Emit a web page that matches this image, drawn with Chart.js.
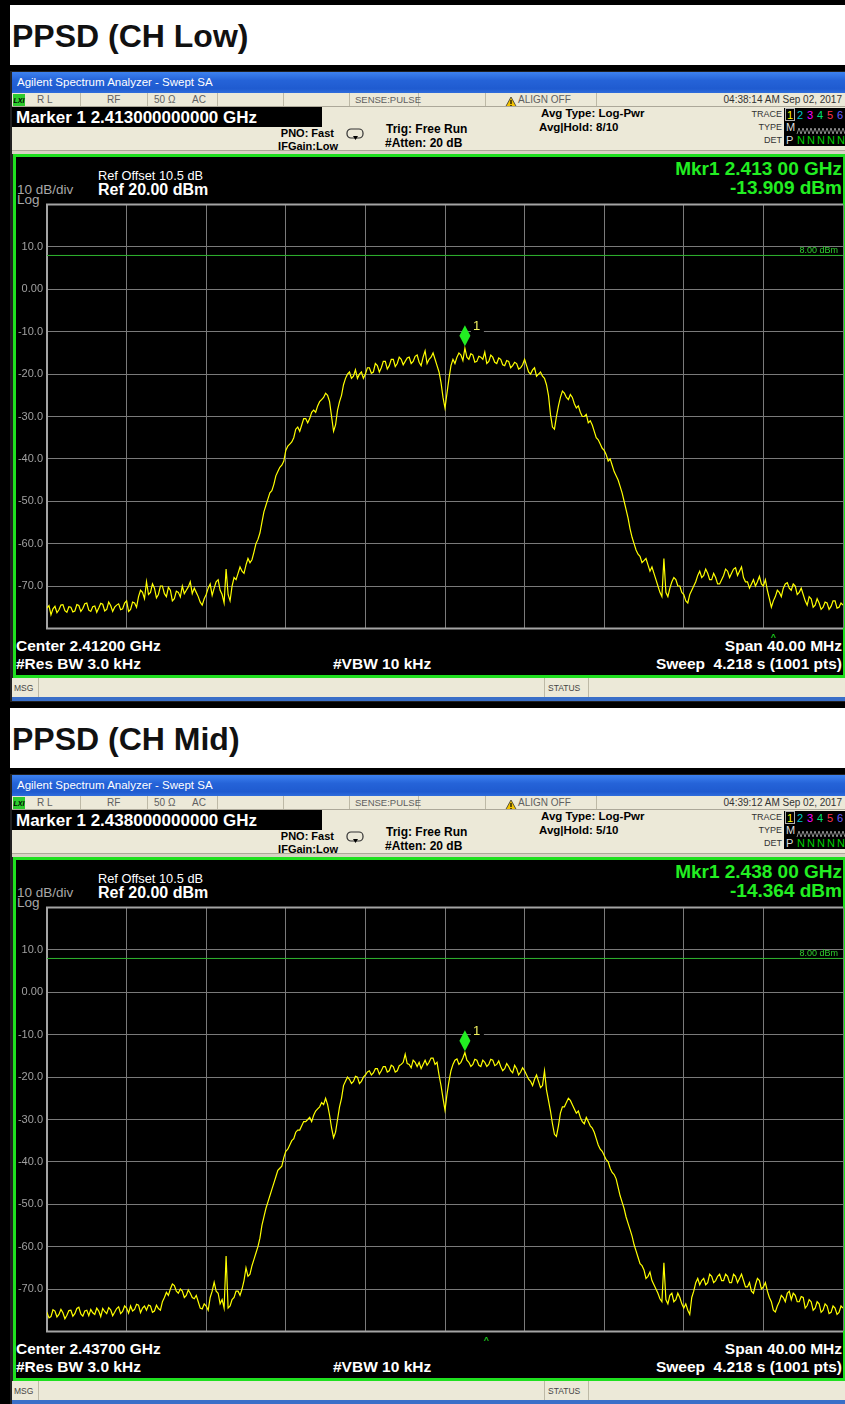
<!DOCTYPE html>
<html>
<head>
<meta charset="utf-8">
<script src="https://cdn.jsdelivr.net/npm/chart.js@4.4.1/dist/chart.umd.min.js"></script>
<style>
  html, body { margin:0; padding:0; }
  body { width:845px; height:1404px; background:#000; position:relative; overflow:hidden; font-family:"Liberation Sans", Arial, sans-serif; }
  .abs { position:absolute; }
  canvas { position:absolute; }
</style>
</head>
<body>
<script>
// ---------- data ----------
const spanMHz = 40;
const yMin = -80, yMax = 20, yStep = 10;
const xDivisions = 10;
const yTickValues = [20, 10, 0, -10, -20, -30, -40, -50, -60, -70, -80];
const yTickLabels = ['', '10.0', '0.00', '-10.0', '-20.0', '-30.0', '-40.0', '-50.0', '-60.0', '-70.0', ''];
const displayLineDbm = 8.00;

const panelTitles = ['PPSD (CH Low)', 'PPSD (CH Mid)'];
const centerGHz = ['2.41200', '2.43700'];
const centerMHz = [2412, 2437];
const markerMHz = [2413, 2438];
const markerDbm = [-13.909, -14.364];
const markerGHzText = ['2.413000000000', '2.438000000000'];
const mkrReadout = ['2.413 00', '2.438 00'];
const clockText = ['04:38:14 AM Sep 02, 2017', '04:39:12 AM Sep 02, 2017'];
const avgHoldText = ['8/10', '5/10'];

// trace values, dBm (401 samples across the 40 MHz span, 0.1 MHz apart)
const traceLow = [
  -75.2,-74.6,-76.8,-75.4,-74.8,-76.3,-75.6,-74.5,-74.4,-75.8,-76.2,-74.9,-75.0,-76.1,-75.9,-74.4,-74.6,-76.0,-75.3,-74.2,-74.0,-75.7,-76.0,-74.9,-74.7,-76.2,-75.2,-74.1,-74.3,-75.9,-75.5,-73.8,-74.6,-76.0,-75.0,-74.5,-74.2,-75.6,-75.4,-74.0,
  -73.5,-76.0,-75.5,-73.8,-74.0,-75.0,-72.5,-71.0,-71.5,-73.0,-69.0,-72.0,-71.5,-69.5,-70.5,-72.8,-72.0,-70.0,-70.0,-71.8,-72.5,-70.3,-71.0,-73.5,-73.0,-71.2,-71.5,-72.6,-70.0,-71.8,-71.0,-70.2,-69.0,-71.8,-70.5,-71.5,-72.5,-73.8,-74.5,-73.0,-72.0,-70.5,-69.5,-72.2,-70.5,-69.0,-68.5,-71.0,-72.0,-74.0,
  -66.0,-72.0,-73.5,-70.0,-68.0,-68.5,-67.0,-65.5,-66.5,-67.0,-65.0,-63.5,-64.5,-63.8,-62.0,-60.0,-59.0,-57.5,-55.0,-52.5,-51.0,-49.5,-48.0,-47.5,-46.0,-44.0,-43.0,-42.0,-41.5,-40.5,-38.0,-37.0,-36.5,-36.0,-35.0,-33.0,-32.5,-33.5,-32.0,-30.5,-30.5,-31.5,-30.5,-29.0,-28.5,-29.0,-27.5,-26.5,-26.0,-25.5,-24.5,-25.0,-26.5,-30.0,-33.5,-32.0,-28.5,-26.5,-25.0,-22.5,
  -21.0,-20.0,-19.5,-21.0,-20.5,-19.0,-21.0,-20.0,-19.5,-21.0,-20.0,-18.5,-18.5,-19.8,-19.5,-17.5,-18.0,-19.5,-18.5,-17.0,-17.0,-18.8,-18.0,-16.5,-16.5,-18.2,-17.5,-16.0,-16.5,-17.8,-17.0,-16.2,-16.0,-17.5,-17.0,-15.8,-15.5,-17.2,-18.0,-16.0,-14.5,-17.5,-16.5,-16.0,-15.0,-16.5,-18.0,-19.5,-22.0,-25.5,
  -28.0,-24.5,-21.0,-18.0,-16.5,-17.5,-16.0,-15.0,-15.5,-16.8,-13.9,-16.0,-16.5,-15.2,-15.5,-17.2,-17.0,-15.8,-16.0,-16.5,-14.8,-17.5,-17.0,-15.5,-16.0,-17.2,-17.5,-16.2,-16.5,-17.8,-18.0,-16.8,-17.0,-18.5,-18.0,-17.2,-17.5,-18.8,-18.5,-17.8,-16.5,-18.0,-19.5,-20.0,-19.0,-18.5,-20.5,-20.0,-19.5,-20.5,-21.0,-22.5,
  -25.0,-29.5,-32.5,-33.0,-30.0,-27.5,-25.5,-24.0,-24.5,-25.5,-26.0,-24.8,-25.5,-27.0,-28.0,-27.5,-29.0,-30.0,-30.0,-29.5,-31.5,-31.0,-32.0,-33.5,-35.0,-35.5,-36.5,-37.5,-38.0,-39.0,-40.5,-40.0,-41.5,-43.0,-44.0,-45.0,-46.5,-48.0,-50.0,-52.0,-54.0,-56.5,-58.5,-60.0,-61.5,-62.5,-63.0,-64.5,-64.0,-63.5,
  -65.0,-66.5,-65.5,-67.0,-68.5,-70.0,-71.5,-72.5,-63.5,-71.5,-72.5,-70.5,-69.0,-68.0,-68.5,-70.0,-70.0,-71.5,-72.0,-73.5,-74.0,-72.0,-71.0,-70.0,-69.0,-67.5,-66.5,-68.0,-67.5,-66.0,-67.0,-68.5,-68.5,-67.0,-68.0,-69.5,-69.5,-68.5,-67.5,-66.0,-66.5,-68.0,-67.0,-66.0,-65.7,-67.5,-66.5,-65.5,-68.0,-69.0,
  -69.0,-70.5,-69.5,-68.5,-70.0,-69.0,-67.7,-69.5,-70.0,-68.5,-71.0,-73.0,-75.0,-73.5,-72.5,-71.0,-71.5,-72.5,-70.5,-69.5,-69.2,-70.5,-71.0,-69.5,-70.0,-72.0,-71.5,-70.5,-72.0,-73.5,-74.5,-72.5,-73.0,-75.0,-74.5,-73.0,-74.0,-75.5,-75.0,-73.8,-74.0,-75.5,-74.8,-73.5,-73.5,-75.2,-75.0,-74.0,-74.5
];
const traceMid = [
  -75.5,-76.8,-76.5,-74.9,-75.2,-76.6,-76.0,-74.8,-75.6,-77.0,-76.2,-75.1,-75.0,-76.4,-75.8,-74.6,-74.3,-75.9,-76.4,-75.2,-75.0,-76.3,-74.8,-75.6,-76.0,-74.5,-75.2,-76.5,-74.6,-75.3,-75.8,-74.4,-74.9,-76.3,-75.5,-74.6,-74.2,-75.8,-75.3,-74.0,-74.5,-75.7,-74.0,-75.2,-74.8,-73.6,-73.8,-75.6,-74.5,-74.0,-75.0,-73.8,
  -74.0,-75.5,-75.2,-73.8,-74.6,-75.0,-73.0,-72.0,-70.8,-71.5,-70.0,-68.8,-69.2,-70.5,-71.0,-70.0,-70.5,-72.0,-71.5,-70.2,-71.0,-72.0,-72.3,-71.5,-73.0,-74.5,-74.7,-73.5,-74.0,-75.0,-72.0,-70.5,-68.4,-70.5,-71.0,-73.5,-72.5,-74.5,
  -62.2,-74.5,-74.0,-72.5,-72.0,-70.5,-70.5,-71.5,-70.0,-68.0,-65.0,-67.0,-66.5,-64.5,-63.0,-61.5,-60.0,-58.0,-55.0,-53.0,-51.0,-49.5,-48.0,-46.5,-45.0,-43.5,-42.0,-41.5,-41.0,-39.0,-37.5,-37.0,-36.0,-35.0,-34.5,-33.0,-32.5,-32.5,-31.5,-30.5,-30.5,-30.0,-29.5,-30.5,-29.0,-28.0,-27.5,-27.0,-26.0,-26.5,-25.0,-26.5,-29.0,-32.0,-34.3,-33.0,-30.0,-27.0,-25.0,-22.0,
  -21.0,-20.0,-20.5,-21.5,-21.0,-19.8,-20.0,-21.5,-21.0,-20.0,-19.5,-18.8,-18.5,-19.5,-19.0,-18.0,-18.0,-19.3,-18.5,-17.5,-17.5,-18.8,-18.5,-17.2,-17.5,-18.8,-18.5,-17.3,-17.0,-16.5,-14.6,-16.8,-17.0,-17.8,-16.0,-16.5,-17.5,-16.5,-18.0,-17.0,-16.0,-17.2,-16.5,-15.5,-15.5,-17.0,-16.5,-19.5,-22.0,-25.0,
  -27.8,-24.0,-21.0,-18.5,-17.0,-16.0,-15.7,-17.0,-16.5,-15.5,-14.2,-16.0,-16.5,-17.5,-17.0,-15.8,-16.0,-17.2,-17.5,-16.0,-16.5,-17.5,-17.0,-15.8,-16.0,-17.3,-17.0,-16.2,-17.5,-18.5,-18.0,-16.8,-17.5,-18.5,-19.0,-17.2,-18.0,-19.5,-18.8,-17.8,-18.5,-19.5,-20.5,-21.0,-22.0,-20.5,-19.5,-21.0,-22.5,-22.0,-18.5,-23.0,
  -25.5,-28.0,-31.0,-33.5,-34.0,-31.5,-28.5,-27.0,-27.0,-26.0,-25.0,-25.5,-26.5,-27.5,-28.5,-28.0,-29.5,-30.5,-31.0,-29.5,-30.5,-31.5,-32.0,-33.0,-34.5,-36.0,-37.0,-37.5,-38.5,-39.5,-40.0,-41.5,-42.5,-43.0,-44.0,-46.0,-48.0,-49.5,-51.0,-53.0,-54.5,-56.0,-57.5,-59.5,-61.0,-62.5,-64.0,-64.5,-65.5,-67.5,
  -67.0,-66.0,-68.0,-69.0,-70.0,-71.0,-72.3,-73.0,-63.8,-72.5,-73.5,-71.5,-71.0,-73.0,-72.5,-71.0,-72.0,-73.5,-74.5,-73.5,-75.0,-76.0,-72.0,-70.5,-68.5,-67.5,-69.0,-68.0,-67.5,-69.0,-68.5,-66.5,-67.0,-68.5,-68.0,-67.0,-66.5,-68.0,-68.0,-66.5,-67.0,-68.5,-68.5,-66.5,-67.0,-68.5,-67.5,-66.5,-68.0,-69.5,
  -69.5,-68.5,-70.5,-71.0,-69.0,-67.5,-68.0,-70.0,-69.5,-68.5,-70.5,-72.0,-73.0,-75.0,-75.4,-74.0,-73.0,-71.5,-72.0,-73.0,-71.0,-70.5,-72.5,-71.0,-71.5,-73.0,-73.0,-71.8,-72.0,-74.5,-73.9,-72.5,-73.0,-75.0,-74.5,-73.0,-73.5,-75.5,-75.0,-73.5,-74.0,-75.8,-75.5,-74.0,-74.5,-76.0,-75.5,-74.0,-74.5
];
const traces = [traceLow, traceMid];

// ---------- helpers ----------
const W = 845;
function box(par, x, y, w, h, css) {
  const d = document.createElement('div');
  d.className = 'abs';
  d.style.left = x + 'px'; d.style.top = y + 'px';
  d.style.width = w + 'px'; d.style.height = h + 'px';
  Object.assign(d.style, css || {});
  par.appendChild(d);
  return d;
}
function txt(par, s, o) {
  const d = document.createElement('div');
  d.className = 'abs';
  d.textContent = s;
  d.style.whiteSpace = 'pre';
  d.style.lineHeight = '1';
  d.style.fontFamily = o.ff || '"Liberation Sans", Arial, sans-serif';
  d.style.fontSize = o.fs + 'px';
  d.style.fontWeight = o.b ? 'bold' : 'normal';
  if (o.i) d.style.fontStyle = 'italic';
  d.style.color = o.c || '#000';
  d.style.top = (o.y - o.fs / 2) + 'px';
  if (o.r != null) d.style.right = (W - o.r) + 'px'; else d.style.left = o.x + 'px';
  if (o.ls) d.style.letterSpacing = o.ls;
  par.appendChild(d);
  return d;
}
function svg(par, x, y, w, h, inner) {
  const d = document.createElement('div');
  d.className = 'abs';
  d.style.left = x + 'px'; d.style.top = y + 'px';
  d.innerHTML = '<svg width="' + w + '" height="' + h + '" xmlns="http://www.w3.org/2000/svg">' + inner + '</svg>';
  par.appendChild(d);
}

const BEIGE = '#ece9d8';
const GREEN = '#1fe01f';

function buildPanel(k, top) {
  const P = box(document.body, 0, top, W, 703, {});
  // title
  box(P, 10, 5, 835, 60, { background: '#fff' });
  txt(P, panelTitles[k], { x: 12, y: 36, fs: 32, b: true, c: '#111' });

  // window frame
  box(P, 10, 71, 835, 631, { background: '#202020' });
  box(P, 12, 72, 833, 21, { background: 'linear-gradient(#3d82f0 0%, #2563d8 40%, #1f5bd0 80%, #2f6ddc 100%)' });
  txt(P, 'Agilent Spectrum Analyzer - Swept SA', { x: 17, y: 83, fs: 11.5, c: '#fff' });

  // status row
  box(P, 12, 93, 833, 14, { background: BEIGE });
  box(P, 13, 94, 12, 12, { background: '#2ecc2e' });
  txt(P, 'LXI', { x: 13.5, y: 100, fs: 7, b: true, i: true, c: '#000' });
  [80, 147, 217, 283, 349, 418, 485, 596].forEach(x => box(P, x, 93, 1, 14, { background: '#bdb9a6' }));
  const sc = '#606060';
  txt(P, 'R L', { x: 37, y: 100, fs: 10, c: sc });
  txt(P, 'RF', { x: 107, y: 100, fs: 10, c: sc });
  txt(P, '50 Ω', { x: 154, y: 100, fs: 10, c: sc });
  txt(P, 'AC', { x: 192, y: 100, fs: 10, c: sc });
  txt(P, 'SENSE:PULSE', { x: 355, y: 100, fs: 9.5, c: sc });
  svg(P, 505, 94, 12, 12, '<polygon points="6,1 11.5,11 0.5,11" fill="#f2c200" stroke="#333" stroke-width="0.8"/><rect x="5.4" y="4" width="1.2" height="4" fill="#000"/><rect x="5.4" y="9" width="1.2" height="1.2" fill="#000"/>');
  txt(P, 'ALIGN OFF', { x: 518, y: 100, fs: 10, c: sc });
  txt(P, clockText[k], { r: 842, y: 100, fs: 10, c: '#333' });

  // marker / settings area
  box(P, 12, 107, 833, 44, { background: BEIGE });
  box(P, 12, 106, 833, 1, { background: '#aca899' });
  box(P, 12, 107, 310, 20, { background: '#000' });
  txt(P, 'Marker 1 ' + markerGHzText[k] + ' GHz', { x: 16, y: 117, fs: 17, b: true, c: '#fff' });
  box(P, 12, 150, 833, 1, { background: '#aca899' });
  box(P, 12, 151, 833, 3, { background: '#d8d4c4' });
  txt(P, 'PNO: Fast', { r: 334, y: 133, fs: 11, b: true });
  txt(P, 'IFGain:Low', { r: 338, y: 146, fs: 11, b: true });
  svg(P, 346, 127, 19, 13, '<rect x="1" y="1" width="16" height="9" rx="4" ry="4" fill="none" stroke="#333" stroke-width="1.2"/><polygon points="7,8 12,8 9.5,12" fill="#000"/>');
  txt(P, 'Trig: Free Run', { x: 386, y: 129, fs: 12, b: true });
  txt(P, '#Atten: 20 dB', { x: 385, y: 143, fs: 12, b: true });
  txt(P, 'Avg Type: Log-Pwr', { x: 541, y: 114, fs: 11.5, b: true });
  txt(P, 'Avg|Hold: ' + avgHoldText[k], { x: 539, y: 128, fs: 11.5, b: true });
  txt(P, 'TRACE', { r: 782, y: 114, fs: 9, c: '#333' });
  txt(P, 'TYPE', { r: 782, y: 127, fs: 9, c: '#333' });
  txt(P, 'DET', { r: 782, y: 140, fs: 9, c: '#333' });
  box(P, 784, 108, 61, 38, { background: '#000' });
  box(P, 785, 108, 10, 13, { border: '1px solid #b0b0b0', boxSizing: 'border-box' });
  const tc = ['#ffff00', '#00c8c8', '#ff00ff', '#00e070', '#ff3050', '#6a5cff'];
  ['1', '2', '3', '4', '5', '6'].forEach((s, i) => txt(P, s, { x: 787 + i * 10, y: 115, fs: 11, c: tc[i] }));
  txt(P, 'M', { x: 786, y: 127, fs: 11, c: '#dcdcdc' });
  let zz = '';
  for (let i = 0; i <= 24; i++) zz += (1 + i * 2) + ',' + (i % 2 ? 2 : 8) + ' ';
  svg(P, 796, 122, 50, 10, '<polyline points="' + zz + '" fill="none" stroke="#9a9a9a" stroke-width="0.9"/>');
  txt(P, 'P', { x: 786, y: 140, fs: 11, c: '#dcdcdc' });
  ['N', 'N', 'N', 'N', 'N'].forEach((s, i) => txt(P, s, { x: 797 + i * 10, y: 140, fs: 11, c: '#00d000' }));

  // screen
  box(P, 13, 154, 833, 524, { background: '#000', border: '3px solid ' + GREEN, boxSizing: 'border-box' });
  txt(P, 'Ref Offset 10.5 dB', { x: 98, y: 176, fs: 12.8, c: '#fff' });
  txt(P, 'Ref 20.00 dBm', { x: 98, y: 190, fs: 16, b: true, c: '#fff' });
  txt(P, '10 dB/div', { x: 17, y: 190, fs: 13.5, c: '#a8a8a8' });
  txt(P, 'Log', { x: 17, y: 200, fs: 13.5, c: '#a8a8a8' });
  txt(P, 'Mkr1 ' + mkrReadout[k] + ' GHz', { r: 842, y: 168, fs: 19, b: true, c: '#22ee22' });
  txt(P, markerDbm[k].toFixed(3) + ' dBm', { r: 842, y: 187, fs: 19, b: true, c: '#22ee22' });
  txt(P, 'Center ' + centerGHz[k] + ' GHz', { x: 16, y: 646, fs: 15.5, b: true, c: '#fff' });
  txt(P, 'Span 40.00 MHz', { r: 842, y: 646, fs: 15.5, b: true, c: '#fff' });
  txt(P, '#Res BW 3.0 kHz', { x: 16, y: 664, fs: 15.5, b: true, c: '#fff' });
  txt(P, '#VBW 10 kHz', { x: 333, y: 664, fs: 15.5, b: true, c: '#fff' });
  txt(P, 'Sweep  4.218 s (1001 pts)', { r: 842, y: 664, fs: 15.5, b: true, c: '#fff' });
  txt(P, '^', { x: k === 0 ? 771 : 484, y: 639, fs: 10, c: '#22ee22' });

  // msg bar
  box(P, 12, 678, 833, 19, { background: BEIGE });
  [38, 544, 588].forEach(x => box(P, x, 678, 1, 19, { background: '#bdb9a6' }));
  txt(P, 'MSG', { x: 14, y: 688, fs: 8.5, c: '#444' });
  txt(P, 'STATUS', { x: 548, y: 688, fs: 8.5, c: '#444' });
  box(P, 12, 697, 833, 4, { background: '#3a6fc8' });

  // chart canvas
  const cv = document.createElement('canvas');
  cv.width = 833; cv.height = 445;
  cv.style.left = '12px'; cv.style.top = '194px';
  cv.style.width = '833px'; cv.style.height = '445px';
  P.appendChild(cv);
  makeChart(cv, k);
}

function makeChart(cv, k) {
  const trace = traces[k];
  const n = trace.length;
  const pts = trace.map((v, i) => ({ x: -spanMHz / 2 + i * spanMHz / (n - 1), y: v }));
  const mOff = markerMHz[k] - centerMHz[k];
  const mLvl = markerDbm[k];

  const framePlugin = {
    id: 'frame',
    beforeDatasetsDraw(chart) {
      const { ctx, chartArea: a } = chart;
      ctx.save();
      ctx.strokeStyle = '#a4a4a4';
      ctx.lineWidth = 2;
      ctx.beginPath();
      ctx.moveTo(a.right, a.top); ctx.lineTo(a.left, a.top); ctx.lineTo(a.left, a.bottom); ctx.lineTo(a.right, a.bottom);
      ctx.stroke();
      ctx.restore();
    }
  };
  const markerPlugin = {
    id: 'mkr',
    afterDatasetsDraw(chart) {
      const { ctx, chartArea: a } = chart;
      const xs = chart.scales.x, ys = chart.scales.y;
      const yl = ys.getPixelForValue(displayLineDbm);
      ctx.save();
      ctx.font = '9px "Liberation Sans", Arial, sans-serif';
      ctx.fillStyle = '#2fcf2f';
      ctx.textAlign = 'right';
      ctx.textBaseline = 'alphabetic';
      ctx.fillText(displayLineDbm.toFixed(2) + ' dBm', a.right - 5, yl - 2);
      const px = xs.getPixelForValue(mOff), py = ys.getPixelForValue(mLvl);
      ctx.fillStyle = '#000';
      ctx.fillRect(px + 6, py - 30, 13, 15);
      ctx.fillStyle = '#22ee22';
      ctx.beginPath();
      ctx.moveTo(px, py - 2); ctx.lineTo(px + 5.5, py - 12.5); ctx.lineTo(px, py - 23); ctx.lineTo(px - 5.5, py - 12.5);
      ctx.closePath(); ctx.fill();
      ctx.fillStyle = '#f0f060';
      ctx.font = '13px "Liberation Sans", Arial, sans-serif';
      ctx.textAlign = 'left';
      ctx.textBaseline = 'middle';
      ctx.fillText('1', px + 8, py - 22);
      ctx.restore();
    }
  };

  new Chart(cv, {
    type: 'line',
    data: {
      datasets: [
        { data: pts, borderColor: '#ffff00', borderWidth: 1.2, pointRadius: 0, tension: 0, order: 1 },
        { data: [{ x: -spanMHz / 2, y: displayLineDbm }, { x: spanMHz / 2, y: displayLineDbm }], borderColor: '#2fb52f', borderWidth: 1, pointRadius: 0, order: 2 }
      ]
    },
    options: {
      responsive: false, animation: false, events: [],
      layout: { padding: { top: 10, bottom: 6, right: 2, left: 0 } },
      plugins: { legend: { display: false }, tooltip: { enabled: false } },
      scales: {
        x: {
          type: 'linear', min: -spanMHz / 2, max: spanMHz / 2,
          ticks: { display: false, stepSize: spanMHz / xDivisions },
          grid: { color: '#7a7a7a', drawTicks: false, lineWidth: 1 },
          border: { display: false },
          afterFit(s) { s.height = 0; }
        },
        y: {
          min: yMin, max: yMax,
          ticks: {
            stepSize: yStep, color: '#a0a0a0', padding: 4,
            font: { family: '"Liberation Sans", Arial, sans-serif', size: 11 },
            callback: (v) => { const i = yTickValues.indexOf(v); return i >= 0 ? yTickLabels[i] : ''; }
          },
          grid: { color: '#7a7a7a', drawTicks: false, lineWidth: 1 },
          border: { display: false },
          afterFit(s) { s.width = 35; }
        }
      }
    },
    plugins: [framePlugin, markerPlugin]
  });
}

buildPanel(0, 0);
buildPanel(1, 703);
</script>
</body>
</html>
